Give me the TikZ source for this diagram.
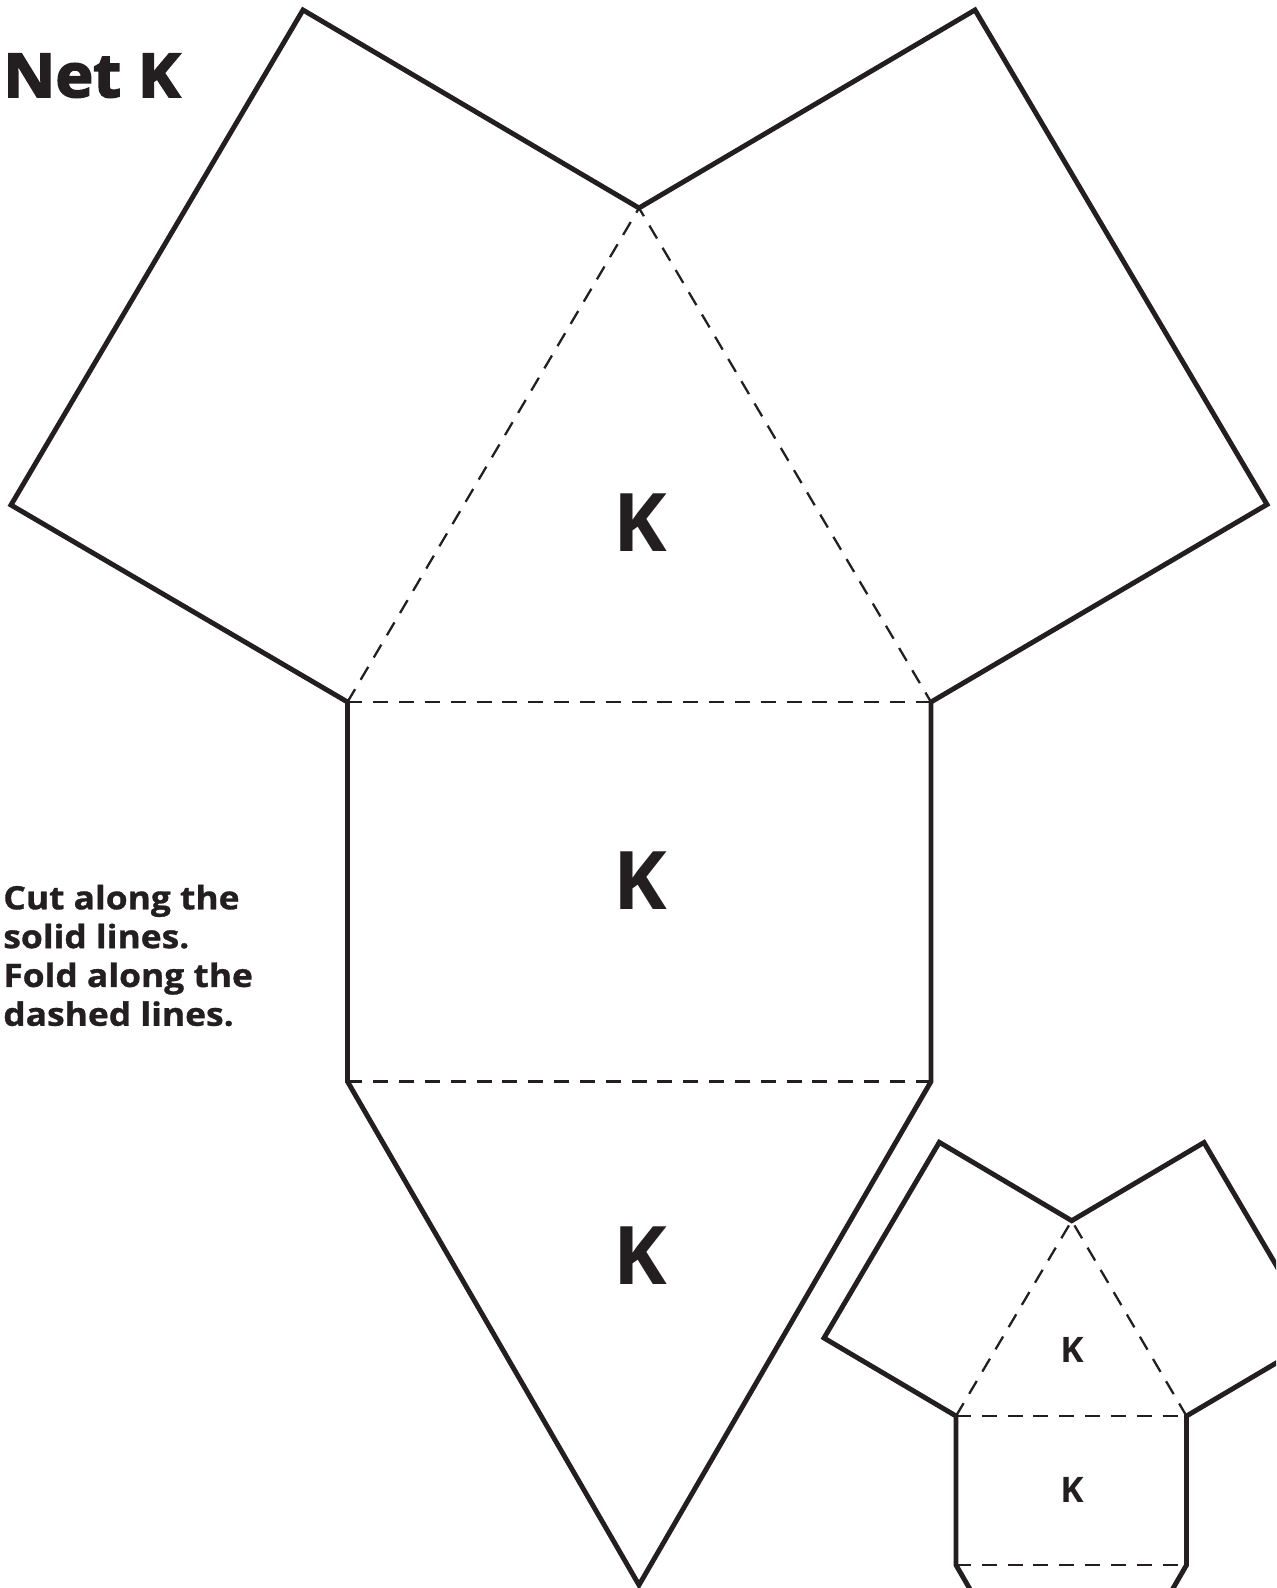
\documentclass[tikz,border=0pt]{standalone}
\usepackage{fontspec}
\setmainfont{Open Sans}
\newfontfamily\heavyfont{Open Sans}[BoldFeatures={FakeBold=3, FakeStretch=1.06}]
\newfontfamily\hintfont{Open Sans}[BoldFeatures={FakeBold=1, FakeStretch=1.1}]
\definecolor{inkblack}{RGB}{35, 31, 32}
\usetikzlibrary{calc}

\begin{document}
\begin{tikzpicture}[x=0.02cm, y=-0.02cm,
  cutline/.style={draw=inkblack, line width=2.8pt, line join=miter},
  foldline/.style={draw=inkblack, line width=1.3pt, dash pattern=on 8.5pt off 6.2pt},
  facelabel/.style={font=\bfseries\fontsize{46}{46}\selectfont, text=inkblack, inner sep=0pt},
  smalllabel/.style={font=\bfseries\fontsize{20}{20}\selectfont, text=inkblack, inner sep=0pt}]
  \useasboundingbox (0,0) rectangle (1276,1588);
  \clip (0,0) rectangle (1276,1588);

  % Large net
  \coordinate (apex) at (639,208);
  \coordinate (baseL) at (347.5,702);
  \coordinate (baseR) at (931,702);
  \coordinate (rectL) at (347.5,1081.5);
  \coordinate (rectR) at (931,1081.5);
  \coordinate (tip) at (639,1585);
  \coordinate (leftTop) at (303,10);
  \coordinate (leftOut) at (11,505);
  \coordinate (rightTop) at (975,10);
  \coordinate (rightOut) at (1267,504.5);

  \draw[cutline] (leftOut) -- (leftTop) -- (apex) -- (rightTop) -- (rightOut) -- (baseR)
    -- (rectR) -- (tip) -- (rectL) -- (baseL) -- cycle;
  \draw[foldline] (baseL) -- (apex) -- (baseR);
  \draw[foldline] (baseL) -- (baseR);
  \draw[foldline] (rectL) -- (rectR);

  \node[facelabel] (topK) at (640,522.5) {K};
  \node[facelabel] (midK) at (640,881) {K};
  \node[facelabel] (botK) at (640,1256) {K};

  % Small net
  \coordinate (sApex) at (1071.7,1220.7);
  \coordinate (sBaseL) at (956,1416);
  \coordinate (sBaseR) at (1186.5,1416);
  \coordinate (sRectL) at (956,1565);
  \coordinate (sRectR) at (1186.5,1565);
  \coordinate (sTip) at (1071.25,1764.6);
  \coordinate (sLeftTop) at (939.3,1142.3);
  \coordinate (sLeftOut) at (824,1338);
  \coordinate (sRightTop) at (1204,1142.5);
  \coordinate (sRightOut) at (1318.8,1337.8);

  \draw[cutline] (sLeftOut) -- (sLeftTop) -- (sApex) -- (sRightTop) -- (sRightOut) -- (sBaseR)
    -- (sRectR) -- (sTip) -- (sRectL) -- (sBaseL) -- cycle;
  \draw[foldline] (sBaseL) -- (sApex) -- (sBaseR);
  \draw[foldline] (sBaseL) -- (sBaseR);
  \draw[foldline] (sRectL) -- (sRectR);

  \node[smalllabel] (sTopK) at (1072,1350) {K};
  \node[smalllabel] (sMidK) at (1072,1490) {K};

  % Title and instructions
  \node[anchor=base west, inner sep=0pt, text=inkblack,
    font=\heavyfont\bfseries\fontsize{34.4}{34.4}\selectfont] (title) at (3,97) {Net K};
  \node[anchor=north west, inner sep=0pt, text=inkblack, align=left,
    font=\hintfont\bfseries\fontsize{18.3}{22.1}\selectfont] (hint) at (3,884.5)
    {Cut along the\\solid lines.\\Fold along the\\dashed lines.};
\end{tikzpicture}
\end{document}
